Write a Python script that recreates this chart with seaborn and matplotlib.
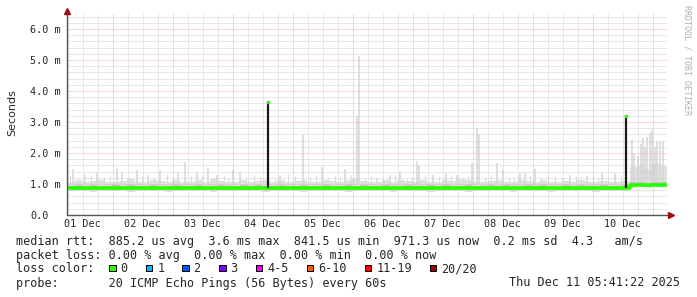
import numpy as np
import pandas as pd
import matplotlib
matplotlib.use("Agg")
import matplotlib.pyplot as plt
from matplotlib.patches import Rectangle
import seaborn as sns

# ---------------- data (hours since 2025-12-01 05:41, values in ms) ----------------
start_hour_of_day = 5.7
day_labels = ["01 Dec", "02 Dec", "03 Dec", "04 Dec", "05 Dec",
              "06 Dec", "07 Dec", "08 Dec", "09 Dec", "10 Dec"]

step_hours = np.arange(0, 243, 3)  # 3 hour rrd steps, 81 edges

env_hi = [1.08, 1.12, 1.06, 1.10, 1.14, 1.08, 1.05, 1.10, 1.15, 1.08, 1.06, 1.12,
          1.10, 1.07, 1.13, 1.08, 1.06, 1.12, 1.08, 1.15, 1.10, 1.06, 1.08, 1.12,
          1.07, 1.10, 1.13, 1.08, 1.12, 1.06, 1.10, 1.14, 1.08, 1.06, 1.12, 1.10,
          1.08, 1.13, 1.15, 1.10, 1.06, 1.08, 1.12, 1.08, 1.13, 1.10, 1.06, 1.12,
          1.08, 1.07, 1.13, 1.10, 1.15, 1.12, 1.08, 1.06, 1.10, 1.13, 1.08, 1.06,
          1.12, 1.10, 1.07, 1.13, 1.08, 1.06, 1.10, 1.08, 1.12, 1.08, 1.06, 1.10,
          1.08, 1.07, 1.10, 1.55, 1.62, 1.50, 1.65, 1.58, 1.60]
env_lo = [0.76, 0.77, 0.76, 0.75, 0.77, 0.76, 0.76, 0.77, 0.75, 0.76, 0.77, 0.76,
          0.76, 0.75, 0.77, 0.76, 0.76, 0.77, 0.76, 0.75, 0.76, 0.77, 0.76, 0.76,
          0.77, 0.76, 0.75, 0.76, 0.77, 0.76, 0.76, 0.75, 0.77, 0.76, 0.76, 0.77,
          0.76, 0.75, 0.76, 0.77, 0.76, 0.76, 0.77, 0.75, 0.76, 0.76, 0.77, 0.76,
          0.75, 0.76, 0.77, 0.76, 0.76, 0.75, 0.77, 0.76, 0.76, 0.77, 0.76, 0.75,
          0.76, 0.77, 0.76, 0.76, 0.75, 0.77, 0.76, 0.76, 0.77, 0.76, 0.75, 0.76,
          0.76, 0.77, 0.76, 0.88, 0.89, 0.88, 0.90, 0.89, 0.88]
mid_lo = [0.80, 0.81, 0.80, 0.80, 0.81, 0.80, 0.80, 0.81, 0.80, 0.80, 0.81, 0.80,
          0.80, 0.80, 0.81, 0.80, 0.80, 0.81, 0.80, 0.80, 0.80, 0.81, 0.80, 0.80,
          0.81, 0.80, 0.80, 0.80, 0.81, 0.80, 0.80, 0.80, 0.81, 0.80, 0.80, 0.81,
          0.80, 0.80, 0.80, 0.81, 0.80, 0.80, 0.81, 0.80, 0.80, 0.80, 0.81, 0.80,
          0.80, 0.80, 0.81, 0.80, 0.80, 0.80, 0.81, 0.80, 0.80, 0.81, 0.80, 0.80,
          0.80, 0.81, 0.80, 0.80, 0.80, 0.81, 0.80, 0.80, 0.81, 0.80, 0.80, 0.80,
          0.80, 0.81, 0.80, 0.92, 0.93, 0.92, 0.93, 0.92, 0.92]
mid_hi = [0.95, 0.96, 0.94, 0.97, 0.95, 0.94, 0.96, 0.95, 0.97, 0.94, 0.95, 0.96,
          0.94, 0.95, 0.97, 0.95, 0.94, 0.96, 0.95, 0.94, 0.97, 0.95, 0.94, 0.96,
          0.95, 0.97, 0.94, 0.95, 0.96, 0.94, 0.95, 0.97, 0.95, 0.94, 0.96, 0.95,
          0.94, 0.97, 0.95, 0.96, 0.94, 0.95, 0.97, 0.95, 0.94, 0.96, 0.95, 0.94,
          0.97, 0.95, 0.96, 0.94, 0.95, 0.97, 0.95, 0.94, 0.96, 0.95, 0.97, 0.94,
          0.95, 0.96, 0.94, 0.97, 0.95, 0.94, 0.96, 0.95, 0.97, 0.94, 0.95, 0.96,
          0.95, 0.94, 0.96, 1.05, 1.06, 1.04, 1.06, 1.05, 1.05]
dark_hi = [0.88, 0.88, 0.88, 0.88, 0.98, 0.88, 0.88, 0.88, 0.88, 0.88, 0.88, 0.88,
           0.88, 0.88, 0.88, 0.88, 0.99, 0.88, 0.88, 0.88, 0.88, 0.88, 0.88, 0.88,
           0.98, 0.88, 0.88, 0.88, 0.88, 0.88, 0.88, 0.88, 0.97, 0.88, 0.88, 0.88,
           0.88, 0.88, 0.88, 0.88, 0.99, 0.88, 0.88, 0.88, 0.88, 0.88, 0.88, 0.88,
           0.88, 0.98, 0.88, 0.88, 0.97, 0.88, 0.88, 0.88, 0.88, 0.88, 0.88, 0.88,
           0.88, 0.88, 0.98, 0.88, 0.97, 0.88, 0.88, 0.88, 0.88, 0.88, 0.88, 0.88,
           0.98, 0.88, 0.88, 1.00, 1.00, 1.00, 1.00, 1.00, 1.00]
median_ms = [0.86, 0.86, 0.86, 0.86, 0.86, 0.86, 0.86, 0.86, 0.86, 0.86, 0.86, 0.86,
             0.86, 0.86, 0.86, 0.86, 0.86, 0.86, 0.86, 0.86, 0.86, 0.86, 0.86, 0.86,
             0.86, 0.86, 0.86, 0.86, 0.86, 0.86, 0.86, 0.86, 0.86, 0.86, 0.86, 0.86,
             0.86, 0.86, 0.86, 0.86, 0.86, 0.86, 0.86, 0.86, 0.86, 0.86, 0.86, 0.86,
             0.86, 0.86, 0.86, 0.86, 0.86, 0.86, 0.86, 0.86, 0.86, 0.86, 0.86, 0.86,
             0.86, 0.86, 0.86, 0.86, 0.86, 0.86, 0.86, 0.86, 0.86, 0.86, 0.86, 0.86,
             0.86, 0.86, 0.86, 0.97, 0.97, 0.97, 0.97, 0.97, 0.97]

# individual smoke spikes (max ping of a step)
spike_hours = [2.4, 7.2, 12.0, 20.0, 22.0, 28.0, 32.4, 37.2, 44.4, 47.2, 52.0, 56.4,
               60.0, 66.5, 69.2, 85.2, 94.4, 101.9, 111.2, 116.0, 116.6, 124.0, 129.2,
               133.2, 140.0, 140.8, 146.4, 151.6, 156.0, 162.0, 164.0, 164.8, 172.0,
               174.4, 181.2, 183.2, 187.2, 201.2, 208.0, 214.0, 219.2,
               226.0, 226.8, 228.4, 229.6, 230.4, 231.2, 232.0, 233.2, 234.0, 235.2,
               236.0, 237.2, 238.4]
spike_tops = [1.47, 1.29, 1.40, 1.47, 1.40, 1.45, 1.30, 1.45, 1.40, 1.72, 1.40, 1.52,
              1.30, 1.45, 1.40, 1.30, 2.58, 1.56, 1.50, 3.20, 5.13, 1.20, 1.30,
              1.40, 1.75, 1.60, 1.30, 1.35, 1.30, 1.67, 2.80, 2.60, 1.67,
              1.45, 1.35, 1.35, 1.50, 1.30, 1.25, 1.35, 1.35,
              2.42, 2.00, 1.90, 2.30, 2.50, 2.20, 2.52, 2.64, 2.74, 2.20,
              2.40, 2.40, 2.35]
small_spike_hours = [1.0, 4.4, 9.6, 14.8, 17.2, 25.2, 30.0, 34.8, 40.0, 42.4, 49.6, 54.0,
                     58.4, 62.8, 64.4, 71.6, 74.8, 77.2, 83.2, 88.4, 91.2, 97.2, 99.6,
                     104.4, 107.2, 109.2, 113.6, 119.2, 121.6, 126.4, 131.2, 136.0,
                     138.0, 143.2, 148.8, 153.6, 158.4, 160.4, 167.2, 169.6, 176.8,
                     178.8, 185.2, 189.6, 192.4, 195.2, 198.0, 203.6, 205.6, 210.4,
                     212.4, 216.4, 221.6]
small_spike_tops = [1.25, 1.20, 1.30, 1.22, 1.28, 1.18, 1.26, 1.20, 1.32, 1.22, 1.25, 1.30,
                    1.20, 1.28, 1.22, 1.18, 1.30, 1.24, 1.20, 1.32, 1.25, 1.22, 1.30,
                    1.20, 1.26, 1.22, 1.28, 1.20, 1.25, 1.22, 1.30, 1.20,
                    1.24, 1.28, 1.22, 1.30, 1.20, 1.26, 1.22, 1.30, 1.24,
                    1.20, 1.28, 1.22, 1.30, 1.25, 1.20, 1.26, 1.22, 1.30,
                    1.24, 1.20, 1.28]

# single-step median outliers
median_spike_hours = [80.4, 223.5]
median_spike_tops = [3.63, 3.18]

rtt_line = "median rtt:  885.2 us avg  3.6 ms max  841.5 us min  971.3 us now  0.2 ms sd  4.3   am/s"
loss_line = "packet loss: 0.00 % avg  0.00 % max  0.00 % min  0.00 % now"
probe_line = "probe:       20 ICMP Echo Pings (56 Bytes) every 60s"
stamp = "Thu Dec 11 05:41:22 2025"
loss_labels = ["0", "1", "2", "3", "4-5", "6-10", "11-19", "20/20"]
loss_colors = ["#26ff00", "#00b8ff", "#0059ff", "#7e00ff", "#ff00ff", "#ff5500", "#ff0000", "#a10000"]

# ---------------- figure ----------------
sns.set_style("white")
plt.rcParams["font.family"] = ["DejaVu Sans Mono", "DejaVu Sans"]
W, H = 697, 297
fig = plt.figure(figsize=(W / 100, H / 100), dpi=100, facecolor="white")
ax = fig.add_axes([67 / W, (H - 215) / H, 600 / W, 202 / H])
ax.set_facecolor("white")
YMAX = 202 / 31.0
ax.set_xlim(0, 240)
ax.set_ylim(0, YMAX)
for s in ax.spines.values():
    s.set_visible(False)

df = pd.DataFrame({"hour": step_hours, "env_hi": env_hi, "env_lo": env_lo,
                   "mid_lo": mid_lo, "mid_hi": mid_hi, "dark_hi": dark_hi,
                   "median": median_ms})

# smoke
ax.fill_between(df["hour"], df["env_lo"], df["env_hi"], step="post",
                color="#e0e0e0", lw=0, zorder=1)
ax.vlines(small_spike_hours, 1.0, small_spike_tops, color="#dcdcdc", lw=0.8, zorder=1)
ax.vlines(spike_hours, 1.0, spike_tops, color="#d6d6d6", lw=1.1, zorder=1)
ax.fill_between(df["hour"], df["mid_lo"], df["mid_hi"], step="post",
                color="#c4c4c4", lw=0, zorder=1.5)
ax.fill_between(df["hour"], df["median"], df["dark_hi"], step="post",
                where=np.array(dark_hi) > np.array(median_ms) + 0.05,
                color="#a0a0a0", lw=0, zorder=1.6)

# grid
minor_col = "#d2d2d2"
major_col = "#eab0b0"
dot = (0, (1, 1))
for k in range(1, 33):
    v = k * 0.2
    if v > YMAX:
        break
    is_major = abs(v - round(v)) < 1e-6
    ax.axhline(v, color=major_col if is_major else minor_col, lw=0.72,
               ls=dot, zorder=2)
first_mid = 24 - start_hour_of_day
h = (first_mid % 6)
while h < 240:
    is_major = abs(((h - first_mid) / 24) - round((h - first_mid) / 24)) < 1e-6
    ax.axvline(h, color=major_col if is_major else minor_col, lw=0.72,
               ls=dot, zorder=2)
    h += 6

# median line (loss colour 0 -> green)
sns.lineplot(data=df, x="hour", y="median", ax=ax, color="#26ff00", lw=2.6,
             drawstyle="steps-post", zorder=4, legend=False)
ax.vlines(median_spike_hours, 0.86, median_spike_tops, color="#1a1a1a", lw=1.6, zorder=5)
ax.plot(median_spike_hours, median_spike_tops, ls="none", marker="s", ms=2.0,
        color="#26ff00", zorder=6)

# axes lines + arrows
ax.plot([0, 0], [0, YMAX * 1.01], color="#555555", lw=1.0, clip_on=False, zorder=7)
ax.plot([0, 240 * 1.005], [0, 0], color="#555555", lw=1.0, clip_on=False, zorder=7)
ax.plot([0], [YMAX * 1.012], marker="^", ms=4, color="#9b1010", clip_on=False, zorder=8)
ax.plot([240 * 1.007], [0], marker=">", ms=4, color="#9b1010", clip_on=False, zorder=8)

# ticks
ax.set_yticks([0, 1, 2, 3, 4, 5, 6])
ax.set_yticklabels(["0.0", "1.0 m", "2.0 m", "3.0 m", "4.0 m", "5.0 m", "6.0 m"],
                   fontsize=7.3, family="DejaVu Sans Mono")
for t in ax.get_yticklabels():
    t.set_horizontalalignment("left")
ax.tick_params(axis="y", length=0, pad=26.5)
label_pos = [(24 - start_hour_of_day) - 12 + 24 * i for i in range(len(day_labels))]
ax.set_xticks(label_pos)
ax.set_xticklabels(day_labels, fontsize=7.3, family="DejaVu Sans Mono")
ax.tick_params(axis="x", length=0, pad=3)
ax.set_xlabel("")
ax.set_ylabel("")

# labels
fig.text(12 / W, 1 - 113 / H, "Seconds", rotation=90, ha="center", va="center",
         fontsize=8, family="DejaVu Sans")
fig.text(687 / W, 1 - 5 / H, "RRDTOOL / TOBI OETIKER", rotation=270, ha="center",
         va="top", fontsize=6, color="#b0b0b0", family="DejaVu Sans Mono")

fs = 8.5
fig.text(16 / W, 1 - 244.5 / H, rtt_line, fontsize=fs, va="baseline", ha="left")
fig.text(16 / W, 1 - 258.5 / H, loss_line, fontsize=fs, va="baseline", ha="left")
fig.text(16 / W, 1 - 272.5 / H, "loss color:", fontsize=fs, va="baseline", ha="left")
fig.text(16 / W, 1 - 286.5 / H, probe_line, fontsize=fs, va="baseline", ha="left")
fig.text(680 / W, 1 - 286.5 / H, stamp, fontsize=fs, va="baseline", ha="right")

sq_x = [109, 145.7, 182, 219, 255.7, 306.7, 365, 430]
for x0, lab, col in zip(sq_x, loss_labels, loss_colors):
    fig.add_artist(Rectangle((x0 / W, 1 - 271 / H), 6.5 / W, 6.5 / H,
                             transform=fig.transFigure, facecolor=col,
                             edgecolor="black", lw=0.7))
    fig.text((x0 + 11.5) / W, 1 - 272.5 / H, lab, fontsize=fs, va="baseline", ha="left")

fig.savefig("out.png", dpi=100, facecolor="white")
